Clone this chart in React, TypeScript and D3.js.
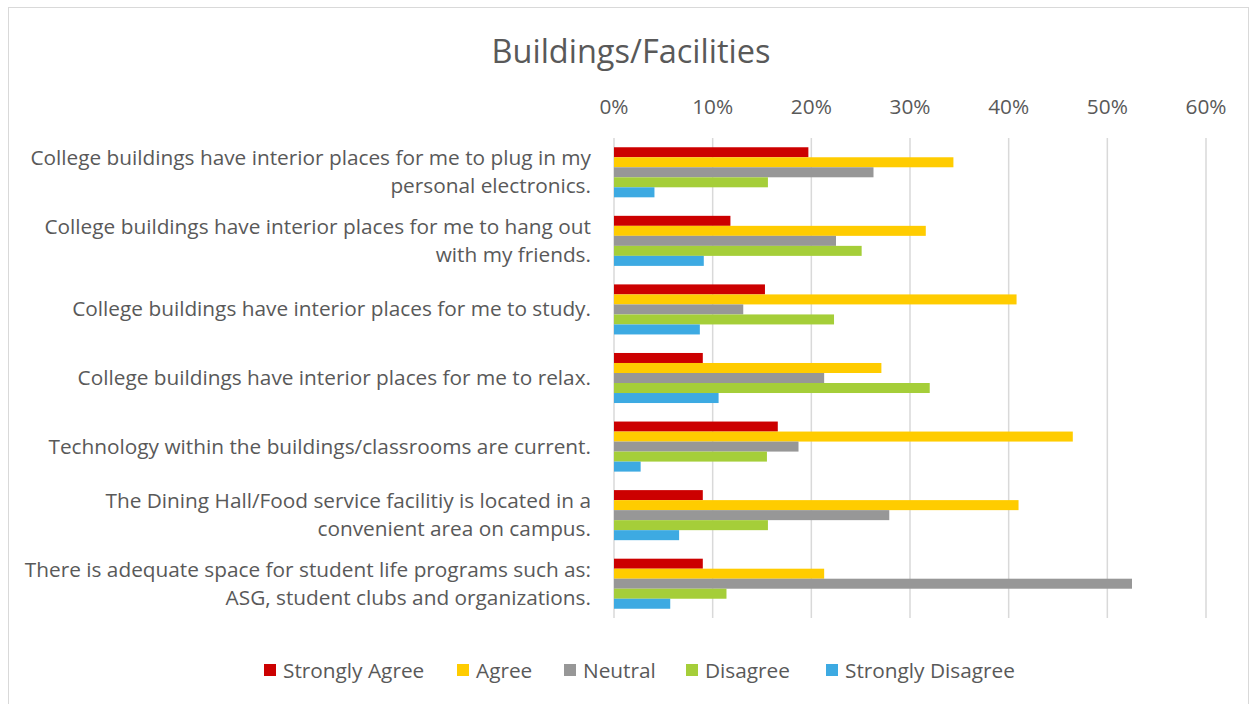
import * as d3 from "d3";

// Survey statements (each line of the wrapped label)
const categories: string[][] = [
  ["College buildings have interior places for me to plug in my", "personal electronics."],
  ["College buildings have interior places for me to hang out", "with my friends."],
  ["College buildings have interior places for me to study."],
  ["College buildings have interior places for me to relax."],
  ["Technology within the buildings/classrooms are current."],
  ["The Dining Hall/Food service facilitiy is located in a", "convenient area on campus."],
  ["There is adequate space for student life programs such as:", "ASG, student clubs and organizations."],
];

const seriesNames = ["Strongly Agree", "Agree", "Neutral", "Disagree", "Strongly Disagree"];
const seriesColors = ["#CC0000", "#FFCC00", "#979797", "#A5CE39", "#3DAAE2"];

// percentages, one array per series, in category order
const stronglyAgree = [19.7, 11.8, 15.3, 9.0, 16.6, 9.0, 9.0];
const agree = [34.4, 31.6, 40.8, 27.1, 46.5, 41.0, 21.3];
const neutral = [26.3, 22.5, 13.1, 21.3, 18.7, 27.9, 52.5];
const disagree = [15.6, 25.1, 22.3, 32.0, 15.5, 15.6, 11.4];
const stronglyDisagree = [4.1, 9.1, 8.7, 10.6, 2.7, 6.6, 5.7];

const seriesValues = [stronglyAgree, agree, neutral, disagree, stronglyDisagree];
const xTicks = [0, 10, 20, 30, 40, 50, 60];

const W = 1250;
const H = 704;
const FONT = "'Open Sans', sans-serif";
const TEXT = "#595959";
const FS = 20.8;

const App = () => {
  const x = d3.scaleLinear().domain([0, 60]).range([614, 1206]);
  const y = d3
    .scaleBand<number>()
    .domain(d3.range(categories.length))
    .range([138, 618])
    .paddingInner(0.27)
    .paddingOuter(0.135);
  const ySub = d3
    .scaleBand<number>()
    .domain(d3.range(seriesNames.length))
    .range([0, y.bandwidth()]);

  // legend squares, left edges
  const legendX = [264, 457, 564, 686, 826];

  return (
    <div style={{ position: "absolute", left: 0, top: 0 }}>
      <svg width={W} height={H} style={{ display: "block", background: "#fff" }}>
        <rect x={8.5} y={7.5} width={1240} height={720} fill="#fff" stroke="#d9d9d9" />

        <text
          x={631}
          y={63}
          textAnchor="middle"
          fontFamily={FONT}
          fontSize={32.5}
          fill={TEXT}
        >
          Buildings/Facilities
        </text>

        {/* gridlines + top axis labels */}
        {xTicks.map((t) => (
          <g key={t}>
            <line
              x1={x(t)}
              x2={x(t)}
              y1={138}
              y2={618}
              stroke="#d9d9d9"
              strokeWidth={1.5}
            />
            <text
              x={x(t)}
              y={114}
              textAnchor="middle"
              fontFamily={FONT}
              fontSize={FS}
              fill={TEXT}
            >
              {t}%
            </text>
          </g>
        ))}

        {/* bars */}
        {categories.map((_, ci) => (
          <g key={ci} transform={`translate(0,${y(ci)})`}>
            {seriesValues.map((vals, si) => (
              <rect
                key={si}
                x={x(0)}
                y={ySub(si)}
                width={x(vals[ci]) - x(0)}
                height={ySub.bandwidth()}
                fill={seriesColors[si]}
              />
            ))}
          </g>
        ))}

        {/* category labels */}
        {categories.map((lines, ci) => {
          const cy = (y(ci) as number) + y.bandwidth() / 2;
          const lh = 28;
          const top = cy - ((lines.length - 1) * lh) / 2;
          return (
            <text
              key={ci}
              textAnchor="end"
              fontFamily={FONT}
              fontSize={FS}
              fill={TEXT}
            >
              {lines.map((ln, li) => (
                <tspan key={li} x={591} y={top + li * lh + 7}>
                  {ln}
                </tspan>
              ))}
            </text>
          );
        })}

        {/* legend */}
        {seriesNames.map((name, si) => (
          <g key={name} transform={`translate(${legendX[si]},664)`}>
            <rect x={0} y={0} width={12} height={12} fill={seriesColors[si]} />
            <text x={19} y={13.5} fontFamily={FONT} fontSize={FS} fill={TEXT}>
              {name}
            </text>
          </g>
        ))}
      </svg>
    </div>
  );
};

export default App;
